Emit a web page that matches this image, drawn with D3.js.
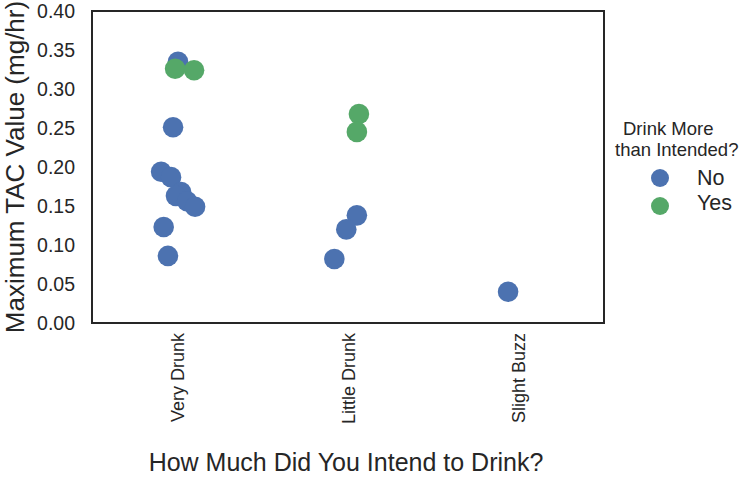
<!DOCTYPE html>
<html><head><meta charset="utf-8">
<script src="https://cdn.jsdelivr.net/npm/d3@7"></script>
<style>body{margin:0;background:#fff}svg{display:block}text{font-family:"Liberation Sans",Arial,sans-serif;fill:#262626}</style>
</head><body><div id="c"></div>
<script>
const categories = ["Very Drunk", "Little Drunk", "Slight Buzz"];
const yTicks = [0, 0.05, 0.10, 0.15, 0.20, 0.25, 0.30, 0.35, 0.40];
const groups = ["No", "Yes"];
const colors = ["#4C72B0", "#55A868"];
// each point: category, TAC value, group, horizontal jitter (in category units)
const pointCat = ["Very Drunk","Very Drunk","Very Drunk","Very Drunk","Very Drunk","Very Drunk","Very Drunk","Very Drunk","Very Drunk","Very Drunk","Very Drunk","Very Drunk",
  "Little Drunk","Little Drunk","Little Drunk","Little Drunk","Little Drunk","Slight Buzz"];
const pointVal = [0.335,0.251,0.194,0.187,0.168,0.163,0.156,0.149,0.123,0.086,0.326,0.324,
  0.138,0.120,0.082,0.268,0.245,0.040];
const pointGrp = ["No","No","No","No","No","No","No","No","No","No","Yes","Yes",
  "No","No","No","Yes","Yes","No"];
const pointJit = [0.004,-0.025,-0.095,-0.037,0.022,-0.008,0.057,0.104,-0.080,-0.055,-0.013,0.098,
  0.052,-0.010,-0.080,0.064,0.052,-0.062];

const W = 750, H = 477;
const m = {l: 92, r: 146, t: 11, b: 154};
const FF = '"Liberation Sans",Arial,sans-serif';
const svg = d3.select("#c").append("svg").attr("width", W).attr("height", H);
const x = d3.scaleLinear().domain([-0.5, categories.length - 0.5]).range([m.l, W - m.r]);
const y = d3.scaleLinear().domain([0, 0.40]).range([H - m.b, m.t]);
const col = d3.scaleOrdinal().domain(groups).range(colors);

// y axis tick labels
const ya = svg.append("g").attr("transform", `translate(${m.l},0)`)
  .call(d3.axisLeft(y).tickValues(yTicks).tickFormat(d3.format(".2f")).tickSize(0).tickPadding(17));
ya.select(".domain").remove();
ya.selectAll("text").attr("font-size", 19.5).attr("fill", "#262626").style("font-family", FF);

// x axis tick labels
const xa = svg.append("g").attr("transform", `translate(0,${H - m.b})`)
  .call(d3.axisBottom(x).tickValues(d3.range(categories.length)).tickFormat(i => categories[i]).tickSize(0));
xa.select(".domain").remove();
xa.selectAll("text").attr("font-size", 18).attr("fill", "#262626").style("font-family", FF)
  .attr("transform", "rotate(-90)").attr("text-anchor", "end").attr("x", -10).attr("y", 0).attr("dy", "0.35em");

// points
const idx = d3.range(pointVal.length);
svg.append("g").selectAll("circle").data(idx).join("circle")
  .attr("cx", i => x(categories.indexOf(pointCat[i]) + pointJit[i]))
  .attr("cy", i => y(pointVal[i]))
  .attr("r", 10.3)
  .attr("fill", i => col(pointGrp[i]));

// frame
svg.append("rect").attr("x", m.l).attr("y", m.t).attr("width", W - m.r - m.l).attr("height", H - m.b - m.t)
  .attr("fill", "none").attr("stroke", "#262626").attr("stroke-width", 2);

// axis titles
svg.append("text").attr("x", 346).attr("y", 471).attr("text-anchor", "middle")
  .attr("font-size", 25).text("How Much Did You Intend to Drink?");
svg.append("text").attr("transform", `translate(24,${(m.t + H - m.b) / 2}) rotate(-90)`).attr("text-anchor", "middle")
  .attr("font-size", 26).text("Maximum TAC Value (mg/hr)");

// legend
const lg = svg.append("g");
lg.append("text").attr("x", 623).attr("y", 135).attr("font-size", 18.5).text("Drink More");
lg.append("text").attr("x", 615).attr("y", 156).attr("font-size", 18.5).text("than Intended?");
groups.forEach((g, i) => {
  lg.append("circle").attr("cx", 660).attr("cy", 178 + i * 28).attr("r", 9).attr("fill", colors[i]);
  lg.append("text").attr("x", 697).attr("y", 185 + i * 25).attr("font-size", 21.5).text(g);
});
</script></body></html>
